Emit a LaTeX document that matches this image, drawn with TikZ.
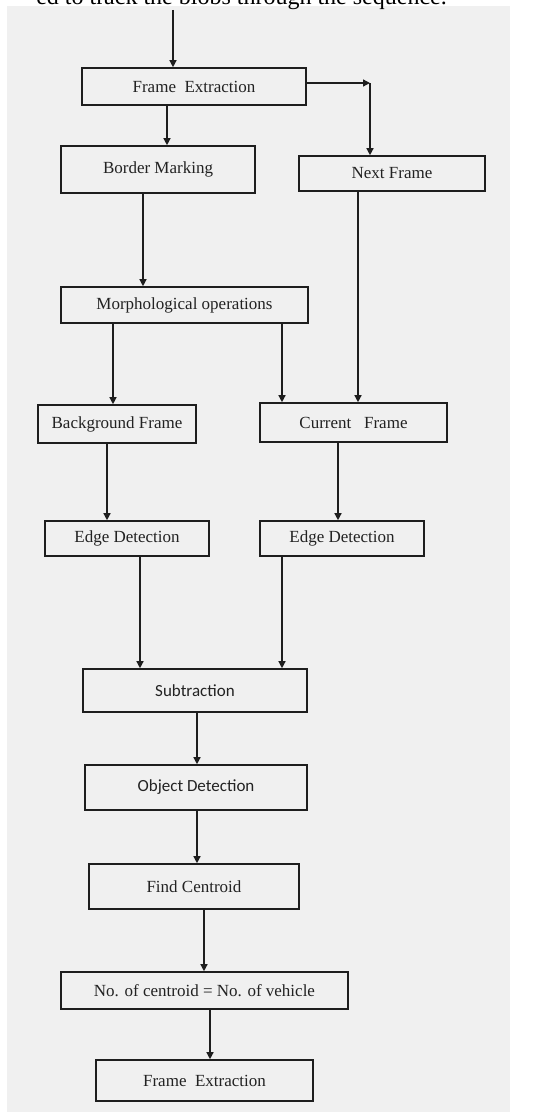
\documentclass[tikz,border=0pt]{standalone}
\usepackage{fontspec}
\setmainfont{Liberation Serif}
\newfontfamily\calfont{Carlito}
\usetikzlibrary{arrows.meta}
\definecolor{panel}{HTML}{F0F0F0}
\definecolor{linec}{HTML}{1E1E1E}
\definecolor{txt}{HTML}{222222}
\begin{document}
\begin{tikzpicture}[x=1pt,y=-1pt,
  box/.style={draw=linec, line width=1.6pt, fill=panel, inner sep=0pt, text=txt,
              font=\fontsize{17}{19}\selectfont},
  sbox/.style={box, font=\calfont\fontsize{17}{19}\selectfont},
  arr/.style={draw=linec, line width=1.3pt, -{Triangle[length=7pt,width=7pt]}}]
\useasboundingbox (0,0) rectangle (538,1116);
\clip (0,0) rectangle (538,1116);
\fill[white] (0,0) rectangle (538,1116);
\fill[panel] (7,6) rectangle (510,1112);
\node[anchor=base east, inner sep=0pt, font=\fontsize{24}{28}\selectfont] (cap) at (447,5) {ed to track the blobs through the sequence.};

% boxes
\node[box, minimum width=224pt, minimum height=37pt] (fe)  at (194,86.5)   {Frame~ Extraction};
\node[box, minimum width=194pt, minimum height=47pt] (bm)  at (158,169.5)  {Border Marking};
\node[box, minimum width=186pt, minimum height=35pt] (nf)  at (392,173.5)  {Next Frame};
\node[box, minimum width=247pt, minimum height=36pt] (mo)  at (184.5,305)  {Morphological operations};
\node[box, minimum width=158pt, minimum height=38pt] (bf)  at (117,424)    {Background Frame};
\node[box, minimum width=187pt, minimum height=39pt] (cf)  at (353.5,422.5){Current~~ Frame};
\node[box, minimum width=164pt, minimum height=35pt] (ed1) at (127,538.5)  {Edge Detection};
\node[box, minimum width=164pt, minimum height=35pt] (ed2) at (342,538.5)  {Edge Detection};
\node[sbox, minimum width=224pt, minimum height=43pt] (sub) at (195,690.5)  {Subtraction};
\node[sbox, minimum width=222pt, minimum height=45pt] (od)  at (196,787.5)  {Object Detection};
\node[box, minimum width=210pt, minimum height=45pt] (fc)  at (194,886.5)  {Find Centroid};
\node[box, minimum width=287pt, minimum height=37pt] (nc)  at (204.5,990.5){No. of centroid = No. of vehicle};
\node[box, minimum width=217pt, minimum height=41pt] (fe2) at (204.5,1080.5){Frame~ Extraction};

% helper columns
\coordinate (top) at (173,10);
\coordinate (corner) at (370,83);
\coordinate (c167) at (167,0);
\coordinate (c143) at (143,0);
\coordinate (c113) at (113,0);
\coordinate (c282) at (282,0);
\coordinate (c358) at (358,0);
\coordinate (c107) at (107,0);
\coordinate (c338) at (338,0);
\coordinate (c140) at (140,0);
\coordinate (c197) at (197,0);
\coordinate (c204) at (204,0);
\coordinate (c210) at (210,0);

% connectors
\draw[arr] (top) -- (top |- fe.north);
\draw[arr] (fe.east |- corner) -- (corner);
\draw[arr] (corner) -- (corner |- nf.north);
\draw[arr] (fe.south -| c167) -- (bm.north -| c167);
\draw[arr] (bm.south -| c143) -- (mo.north -| c143);
\draw[arr] (mo.south -| c113) -- (bf.north -| c113);
\draw[arr] (mo.south -| c282) -- (cf.north -| c282);
\draw[arr] (nf.south -| c358) -- (cf.north -| c358);
\draw[arr] (bf.south -| c107) -- (ed1.north -| c107);
\draw[arr] (cf.south -| c338) -- (ed2.north -| c338);
\draw[arr] (ed1.south -| c140) -- (sub.north -| c140);
\draw[arr] (ed2.south -| c282) -- (sub.north -| c282);
\draw[arr] (sub.south -| c197) -- (od.north -| c197);
\draw[arr] (od.south -| c197) -- (fc.north -| c197);
\draw[arr] (fc.south -| c204) -- (nc.north -| c204);
\draw[arr] (nc.south -| c210) -- (fe2.north -| c210);
\end{tikzpicture}
\end{document}
